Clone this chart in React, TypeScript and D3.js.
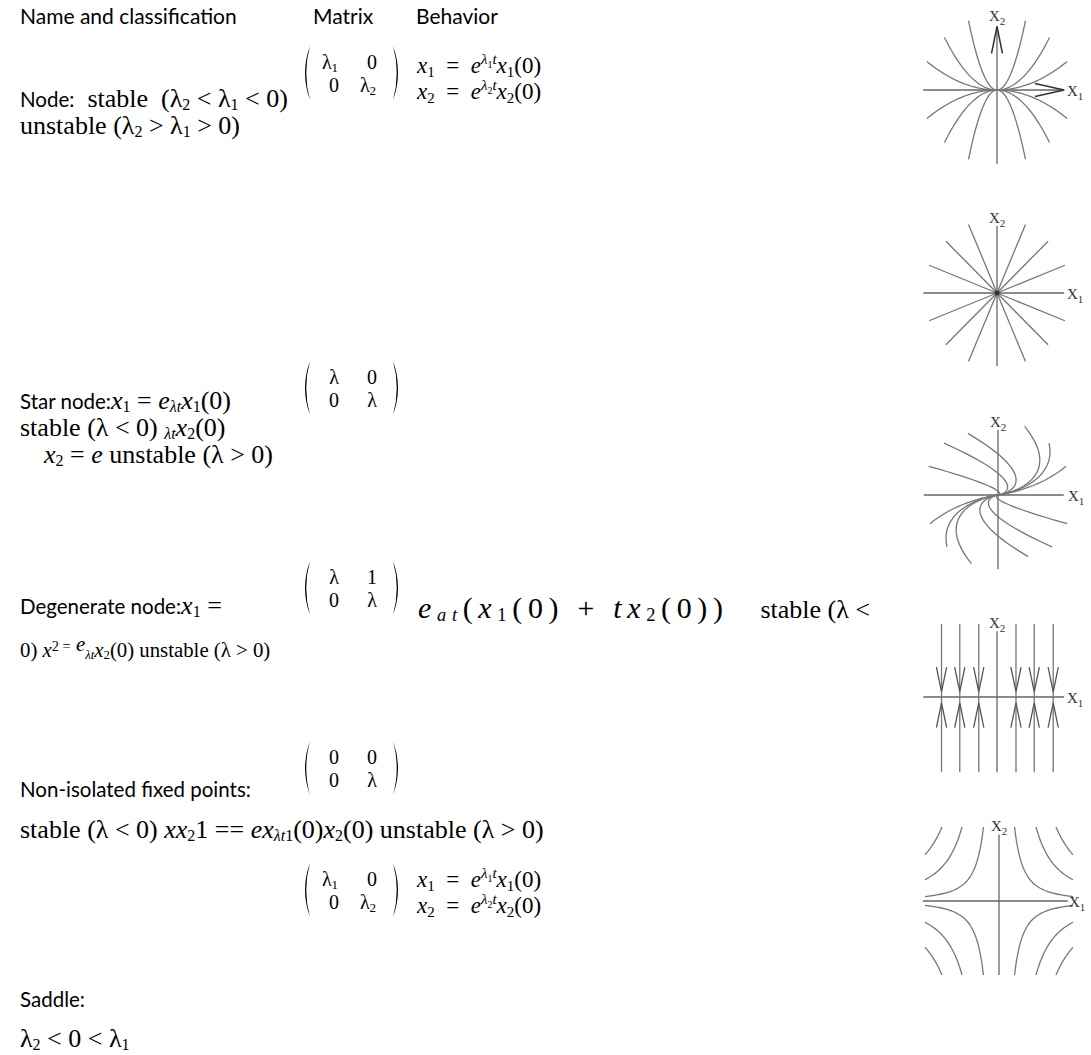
import React, { useEffect, useRef } from 'react'
import * as d3 from 'd3'

const WIDTH = 1091
const HEIGHT = 1055

const SANS = 'Lato, "Open Sans", sans-serif'
const SERIF = '"Liberation Serif", "Times New Roman", serif'

type Run = [string, string]

const headers = ['Name and classification', 'Matrix', 'Behavior']

// left column text, as runs of [text, style]
const nodeName: Run[] = [['Node:', 'sans'], ['  stable  (λ', 'rm'], ['2', 'sub'], [' < λ', 'rm'], ['1', 'sub'], [' < 0)', 'rm']]
const nodeUnstable: Run[] = [['unstable (λ', 'rm'], ['2', 'sub'], [' > λ', 'rm'], ['1', 'sub'], [' > 0)', 'rm']]
const starName: Run[] = [['Star node:', 'sans'], ['x', 'it'], ['1', 'sub'], [' = ', 'rm'], ['e', 'it'], ['λt', 'itsub'], ['x', 'it'], ['1', 'sub'], ['(0)', 'big']]
const starStable: Run[] = [['stable (λ < 0) ', 'rm'], ['λt', 'itsub'], ['x', 'it'], ['2', 'sub'], ['(0)', 'big']]
const starUnstable: Run[] = [['x', 'it'], ['2', 'sub'], [' = ', 'rm'], ['e', 'it'], [' unstable (λ > 0)', 'rm']]
const degName: Run[] = [['Degenerate node:', 'sans'], ['x', 'it'], ['1', 'sub'], [' =', 'rm']]
const degBehavior: Run[] = [['e', 'it'], ['at', 'itsub'], ['(', 'big'], ['x', 'it'], ['1', 'sub'], ['(0) + ', 'big'], ['tx', 'it'], ['2', 'sub'], ['(0))', 'big']]
const degStable: Run[] = [['stable (λ <', 'rm']]
const degUnstable: Run[] = [['0) ', 'rm'], ['x', 'it'], ['2 =', 'sup'], [' e', 'itsup'], ['λt', 'itsub'], ['x', 'it'], ['2', 'sub'], ['(0)', 'big'], [' unstable (λ > 0)', 'rm']]
const nonIsoName: Run[] = [['Non-isolated fixed points:', 'sans']]
const nonIsoLine: Run[] = [['stable (λ < 0) ', 'rm'], ['xx', 'it'], ['2', 'sub'], ['1 == ', 'rm'], ['ex', 'it'], ['λt', 'itsub'], ['1', 'sub'], ['(0)', 'big'], ['x', 'it'], ['2', 'sub'], ['(0)', 'big'], [' unstable (λ > 0)', 'rm']]
const saddleName: Run[] = [['Saddle:', 'sans']]
const saddleCond: Run[] = [['λ', 'rm'], ['2', 'sub'], [' < 0 < λ', 'rm'], ['1', 'sub']]

// behaviour column (LaTeX style)
const behaviorX1: Run[] = [['x', 'mi'], ['1', 'msub'], ['  =  ', 'm'], ['e', 'mi'], ['λ', 'msup'], ['1', 'msupsub'], ['t', 'misup'], ['x', 'mi'], ['1', 'msub'], ['(0)', 'm']]
const behaviorX2: Run[] = [['x', 'mi'], ['2', 'msub'], ['  =  ', 'm'], ['e', 'mi'], ['λ', 'msup'], ['2', 'msupsub'], ['t', 'misup'], ['x', 'mi'], ['2', 'msub'], ['(0)', 'm']]

// matrices: entries are [symbol, subscript]
const nodeMatrix = [[['λ', '1'], ['0', '']], [['0', ''], ['λ', '2']]]
const starMatrix = [[['λ', ''], ['0', '']], [['0', ''], ['λ', '']]]
const degMatrix = [[['λ', ''], ['1', '']], [['0', ''], ['λ', '']]]
const nonIsoMatrix = [[['0', ''], ['0', '']], [['0', ''], ['λ', '']]]
const saddleMatrix = [[['λ', '1'], ['0', '']], [['0', ''], ['λ', '2']]]

// phase portraits, in units of the portrait half-width
const nodeCurveEnds = [[0.96, 0.39], [0.72, 0.72], [0.39, 0.95]]
const starRayEnds = [
     [0.93, 0.38], [0.7, 0.71], [0.39, 0.94], [-0.39, 0.94], [-0.7, 0.71], [-0.93, 0.38],
     [-0.93, -0.38], [-0.7, -0.71], [-0.39, -0.94], [0.39, -0.94], [0.7, -0.71], [0.93, -0.38],
]
const degCurveEnds = [[-0.99, 0.41], [-0.77, 0.74], [-0.43, 0.88], [0.38, 0.98], [0.73, 0.74], [0.97, 0.41]]
const degLogCoef = 1.2
const nonIsoLines = [-0.76, -0.51, -0.25, 0.26, 0.51, 0.77]
const saddleTops = [0.21, 0.5, 0.77]
const saddleExp = 1.8

const STYLES: Record<string, { family: string; size: number; italic?: boolean; shift: number }> = {
     sans: { family: SANS, size: 20.5, shift: 0 },
     rm: { family: SERIF, size: 26, shift: 0 },
     big: { family: SERIF, size: 26, shift: 0 },
     it: { family: SERIF, size: 26, italic: true, shift: 0 },
     sub: { family: SERIF, size: 16, shift: 3 },
     itsub: { family: SERIF, size: 16, italic: true, shift: 3 },
     sup: { family: SERIF, size: 18, shift: -8 },
     itsup: { family: SERIF, size: 26, italic: true, shift: -8 },
     m: { family: SERIF, size: 23, shift: 0 },
     mi: { family: SERIF, size: 23, italic: true, shift: 0 },
     msub: { family: SERIF, size: 15, shift: 4 },
     msup: { family: SERIF, size: 15, italic: true, shift: -9 },
     msupsub: { family: SERIF, size: 10, shift: -5 },
     misup: { family: SERIF, size: 15, italic: true, shift: -9 },
}

const drawRuns = (g: any, x: number, y: number, runs: Run[], scale = 1) => {
     const text = g
          .append('text')
          .attr('x', x)
          .attr('y', y)
          .attr('fill', '#000')
          .style('white-space', 'pre')
     let shift = 0
     runs.forEach(([s, k]) => {
          const st = STYLES[k]
          text.append('tspan')
               .attr('dy', (st.shift - shift) * scale)
               .attr('font-family', st.family)
               .attr('font-size', st.size * scale)
               .attr('font-style', st.italic ? 'italic' : 'normal')
               .text(s)
          shift = st.shift
     })
     return text
}

const drawMatrix = (g: any, left: number, top: number, entries: string[][][]) => {
     const w = 97
     const h = 54
     const mid = top + h / 2
     const bottom = top + h
     const right = left + w
     g.append('path')
          .attr('d', `M${left + 7},${top} Q${left - 3},${mid} ${left + 7},${bottom} Q${left - 0.5},${mid} ${left + 7},${top}Z`)
          .attr('fill', '#000')
     g.append('path')
          .attr('d', `M${right - 7},${top} Q${right + 3},${mid} ${right - 7},${bottom} Q${right + 0.5},${mid} ${right - 7},${top}Z`)
          .attr('fill', '#000')
     const col = d3.scalePoint<number>().domain([0, 1]).range([left + 31, left + 69])
     const row = d3.scalePoint<number>().domain([0, 1]).range([top + 23, top + 46])
     entries.forEach((r, i) =>
          r.forEach(([sym, sub], j) => {
               const t = g
                    .append('text')
                    .attr('x', col(j) - (sub ? 4 : 0))
                    .attr('y', row(i))
                    .attr('text-anchor', 'middle')
                    .attr('font-family', SERIF)
                    .attr('font-size', 20)
               t.append('tspan').text(sym)
               if (sub) t.append('tspan').attr('font-size', 13).attr('dy', 3).text(sub)
          })
     )
}

const portrait = (parent: any, cx: number, cy: number, r: number) => {
     const g = parent.append('g')
     const x = d3.scaleLinear().domain([-1, 1]).range([cx - r, cx + r])
     const y = d3.scaleLinear().domain([-1, 1]).range([cy + r, cy - r])
     const line = d3
          .line<number[]>()
          .x((d) => x(d[0]))
          .y((d) => y(d[1]))
     return { g, x, y, line }
}

const axes = (p: any, xr: number[], yr: number[]) => {
     p.g.append('line')
          .attr('x1', p.x(xr[0]))
          .attr('x2', p.x(xr[1]))
          .attr('y1', p.y(0))
          .attr('y2', p.y(0))
          .attr('stroke', '#666')
          .attr('stroke-width', 1.3)
     p.g.append('line')
          .attr('x1', p.x(0))
          .attr('x2', p.x(0))
          .attr('y1', p.y(yr[0]))
          .attr('y2', p.y(yr[1]))
          .attr('stroke', '#666')
          .attr('stroke-width', 1.3)
}

const axisLabels = (p: any, x2Top: number) => {
     const lab = (x: number, y: number, sub: string) => {
          const t = p.g
               .append('text')
               .attr('x', x)
               .attr('y', y)
               .attr('font-family', SERIF)
               .attr('font-size', 15)
               .attr('fill', '#333')
          t.append('tspan').text('X')
          t.append('tspan').attr('font-size', 11).attr('dy', 4).text(sub)
     }
     lab(p.x(0) - 8, p.y(x2Top) - 3, '2')
     lab(p.x(0) + 70, p.y(0) + 6, '1')
}

const curveStyle = (sel: any) => sel.attr('fill', 'none').attr('stroke', '#777').attr('stroke-width', 1.3)

export default function App() {
     const svgRef = useRef<SVGSVGElement | null>(null)

     useEffect(() => {
          const svg = d3.select(svgRef.current)
          svg.selectAll('*').remove()
          svg.append('rect').attr('width', WIDTH).attr('height', HEIGHT).attr('fill', '#fff')

          const txt = svg.append('g')
          const headerX = [20, 313, 416]
          headers.forEach((h, i) =>
               txt.append('text')
                    .attr('x', headerX[i])
                    .attr('y', 24)
                    .attr('font-family', SANS)
                    .attr('font-size', 21)
                    .text(h)
          )

          // node
          drawMatrix(txt, 303, 46, nodeMatrix)
          drawRuns(txt, 417, 73, behaviorX1)
          drawRuns(txt, 417, 99, behaviorX2)
          drawRuns(txt, 20, 107, nodeName)
          drawRuns(txt, 20, 134, nodeUnstable)

          // star node
          drawMatrix(txt, 303, 361, starMatrix)
          drawRuns(txt, 20, 409, starName)
          drawRuns(txt, 20, 436, starStable)
          drawRuns(txt, 44, 463, starUnstable)

          // degenerate node
          drawMatrix(txt, 303, 561, degMatrix)
          drawRuns(txt, 20, 614, degName)
          drawRuns(txt, 418, 618, degBehavior, 1.15).attr('textLength', 305).attr('lengthAdjust', 'spacing')
          drawRuns(txt, 870, 618, degStable).attr('text-anchor', 'end')
          drawRuns(txt, 20, 657, degUnstable, 0.8)

          // non-isolated
          drawMatrix(txt, 303, 741, nonIsoMatrix)
          drawRuns(txt, 20, 797, nonIsoName)
          drawRuns(txt, 20, 838, nonIsoLine)

          // saddle
          drawMatrix(txt, 303, 863, saddleMatrix)
          drawRuns(txt, 417, 887, behaviorX1)
          drawRuns(txt, 417, 913, behaviorX2)
          drawRuns(txt, 20, 1007, saddleName)
          drawRuns(txt, 20, 1047, saddleCond)

          // node portrait
          const pn = portrait(svg, 997, 90, 73)
          axes(pn, [-1.01, 0.92], [-1.01, 0.87])
          nodeCurveEnds.forEach(([ex, ey]) => {
               const k = ey / (ex * ex)
               ;[1, -1].forEach((s) => {
                    const pts = d3.range(-ex, ex + 1e-9, ex / 40).map((v) => [v, s * k * v * v])
                    pn.g.append('path').attr('d', pn.line(pts)).call(curveStyle)
               })
          })
          const arrow = (pts: number[][]) =>
               pn.g.append('path').attr('d', pn.line(pts)).attr('fill', 'none').attr('stroke', '#333').attr('stroke-width', 1.5)
          arrow([[0.52, 0.09], [0.92, 0], [0.52, -0.09]])
          arrow([[-0.075, 0.5], [0, 0.87], [0.075, 0.5]])
          axisLabels(pn, 0.9)

          // star portrait
          const ps = portrait(svg, 997, 293, 73)
          axes(ps, [-1.01, 0.92], [-1, 0.92])
          starRayEnds.forEach((e) => ps.g.append('path').attr('d', ps.line([[0, 0], e])).call(curveStyle))
          ps.g.append('circle').attr('cx', ps.x(0)).attr('cy', ps.y(0)).attr('r', 2.5).attr('fill', '#333')
          axisLabels(ps, 0.92)

          // degenerate portrait
          const pd = portrait(svg, 998, 495, 70)
          axes(pd, [-1.06, 0.94], [-1.06, 0.93])
          degCurveEnds.forEach(([ex, ey]) => {
               const c = ex / ey + degLogCoef * Math.log(ey)
               const pts = d3.range(0, 80).map((i) => {
                    const v = ey * Math.pow(1e-4 / ey, i / 79)
                    return [v * (c - degLogCoef * Math.log(v)), v]
               })
               pd.g.append('path').attr('d', pd.line(pts)).call(curveStyle)
               pd.g.append('path').attr('d', pd.line(pts.map(([a, b]) => [-a, -b]))).call(curveStyle)
          })
          axisLabels(pd, 0.93)

          // non-isolated fixed points portrait
          const pf = portrait(svg, 997, 697, 73)
          axes(pf, [-1.01, 0.92], [-1.03, 0.9])
          nonIsoLines.forEach((v) => {
               pf.g.append('path').attr('d', pf.line([[v, 1.0], [v, -1.03]])).call(curveStyle)
               const chev = (pts: number[][]) =>
                    pf.g.append('path').attr('d', pf.line(pts)).attr('fill', 'none').attr('stroke', '#555').attr('stroke-width', 1.3)
               chev([[v - 0.07, 0.41], [v, 0.07], [v + 0.07, 0.41]])
               chev([[v - 0.07, -0.42], [v, -0.08], [v + 0.07, -0.42]])
          })
          axisLabels(pf, 0.9)

          // saddle portrait
          const pa = portrait(svg, 999, 901, 74)
          axes(pa, [-1.03, 0.93], [-1, 0.9])
          saddleTops.forEach((t) => {
               const c = Math.pow(t, saddleExp)
               const pts = d3.range(0, 51).map((i) => {
                    const v = t + ((1 - t) * i) / 50
                    return [v, c / Math.pow(v, saddleExp)]
               })
               ;[
                    [1, 1],
                    [-1, 1],
                    [1, -1],
                    [-1, -1],
               ].forEach(([sx, sy]) =>
                    pa.g.append('path').attr('d', pa.line(pts.map(([a, b]) => [sx * a, sy * b]))).call(curveStyle)
               )
          })
          axisLabels(pa, 0.9)
     }, [])

     return (
          <svg
               ref={svgRef}
               width={WIDTH}
               height={HEIGHT}
               style={{ position: 'absolute', left: 0, top: 0, display: 'block' }}
          />
     )
}
